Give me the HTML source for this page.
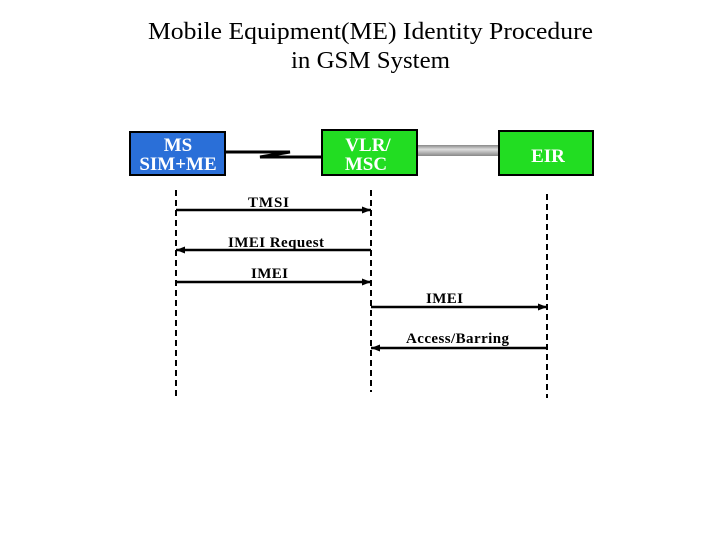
<!DOCTYPE html>
<html><head><style>
html,body{margin:0;padding:0;background:#fff;}
svg{display:block;}
text{font-family:"Liberation Serif",serif;}
</style></head><body>
<svg width="720" height="540" viewBox="0 0 720 540" xmlns="http://www.w3.org/2000/svg">
<defs>
<marker id="a" markerWidth="9" markerHeight="7" refX="9" refY="3.5" orient="auto" markerUnits="userSpaceOnUse">
<path d="M0,0 L9,3.5 L0,7 Z" fill="#000"/></marker>
<linearGradient id="g" x1="0" y1="0" x2="0" y2="1">
<stop offset="0" stop-color="#888"/><stop offset="0.4" stop-color="#ddd"/><stop offset="1" stop-color="#888"/></linearGradient>
</defs>
<text x="148" y="39" font-size="24" textLength="445" lengthAdjust="spacingAndGlyphs">Mobile Equipment(ME) Identity Procedure</text>
<text x="291" y="68" font-size="24" textLength="159" lengthAdjust="spacingAndGlyphs">in GSM System</text>
<rect x="418" y="145" width="80" height="11" fill="url(#g)"/>
<polyline points="226,152 290,152 260,157 321,157" fill="none" stroke="#000" stroke-width="3"/>
<rect x="130" y="132" width="95" height="43" fill="#2a6fd8" stroke="#000" stroke-width="2"/>
<text x="178" y="151" font-size="19" fill="#fff" text-anchor="middle" font-weight="bold">MS</text>
<text x="178" y="170" font-size="19" fill="#fff" text-anchor="middle" font-weight="bold">SIM+ME</text>
<rect x="322" y="130" width="95" height="45" fill="#22dd22" stroke="#000" stroke-width="2"/>
<text x="368" y="151" font-size="19" fill="#fff" text-anchor="middle" font-weight="bold">VLR/</text>
<text x="366" y="170" font-size="19" fill="#fff" text-anchor="middle" font-weight="bold">MSC</text>
<rect x="499" y="131" width="94" height="44" fill="#22dd22" stroke="#000" stroke-width="2"/>
<text x="548" y="162" font-size="19" fill="#fff" text-anchor="middle" font-weight="bold">EIR</text>
<g stroke="#000" stroke-width="2" stroke-dasharray="6,4">
<line x1="176" y1="190" x2="176" y2="398"/>
<line x1="371" y1="190" x2="371" y2="392"/>
<line x1="547" y1="194" x2="547" y2="398"/>
</g>
<g stroke="#000" stroke-width="2.5" marker-end="url(#a)">
<line x1="176" y1="210" x2="371" y2="210"/>
<line x1="371" y1="250" x2="176" y2="250"/>
<line x1="176" y1="282" x2="371" y2="282"/>
<line x1="371" y1="307" x2="547" y2="307"/>
<line x1="547" y1="348" x2="371" y2="348"/>
</g>
<g font-size="15" font-weight="bold">
<text x="248" y="207" textLength="41">TMSI</text>
<text x="228" y="247" textLength="96">IMEI Request</text>
<text x="251" y="278" textLength="37">IMEI</text>
<text x="426" y="303" textLength="37">IMEI</text>
<text x="406" y="343" textLength="103">Access/Barring</text>
</g>
</svg>
</body></html>
